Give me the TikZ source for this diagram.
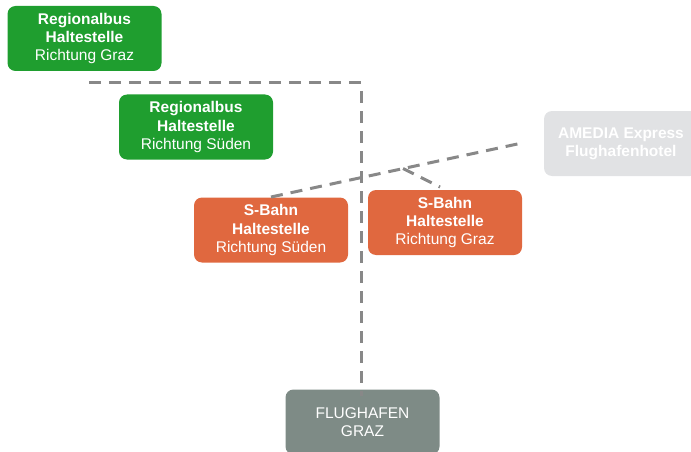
\documentclass[tikz,border=0pt]{standalone}
\usepackage{fontspec}
\setmainfont{Liberation Sans}
\definecolor{busgreen}{HTML}{1F9E2F}
\definecolor{bahnorange}{HTML}{E0683F}
\definecolor{airgray}{HTML}{7E8B86}
\definecolor{hotelgray}{HTML}{E1E2E4}
\definecolor{linegray}{HTML}{888888}
\begin{document}
\begin{tikzpicture}[x=1pt,y=-1pt,
  box/.style={rounded corners=8pt, minimum width=154pt, minimum height=65pt,
    align=center, text=white, inner sep=0pt,
    font=\fontsize{15.5}{18.3}\selectfont},
  conn/.style={draw=linegray, line width=3pt, dash pattern=on 12pt off 8pt}]
\useasboundingbox (0,0) rectangle (691,452);
\coordinate (hstart) at (89,83);
\coordinate (corner) at (361,83);
\coordinate (lineend) at (522,143);
\coordinate (sbs) at (271,197);
\coordinate (branch) at (403,168.5);
\coordinate (sbg) at (440,187);
\node[box, fill=busgreen] (rbg) at (84.5,38.5) {\textbf{Regionalbus}\\\textbf{Haltestelle}\\Richtung Graz};
\node[box, fill=busgreen] (rbs) at (196,127) {\textbf{Regionalbus}\\\textbf{Haltestelle}\\Richtung Süden};
\node[box, fill=bahnorange] (sbsued) at (271,230) {\textbf{S-Bahn}\\\textbf{Haltestelle}\\Richtung Süden};
\node[box, fill=bahnorange] (sbgraz) at (445,222.5) {\textbf{S-Bahn}\\\textbf{Haltestelle}\\Richtung Graz};
\node[box, fill=hotelgray] (hotel) at (621,143.5) {\textbf{AMEDIA Express}\\\textbf{Flughafenhotel}};
\node[box, fill=airgray] (airport) at (362.5,422) {FLUGHAFEN\\GRAZ};
\draw[conn] (hstart) -- (corner) -- ([yshift=-7pt]airport.north -| corner);
\draw[conn] (sbs) -- (lineend);
\draw[conn] (branch) -- (sbg);
\end{tikzpicture}
\end{document}
